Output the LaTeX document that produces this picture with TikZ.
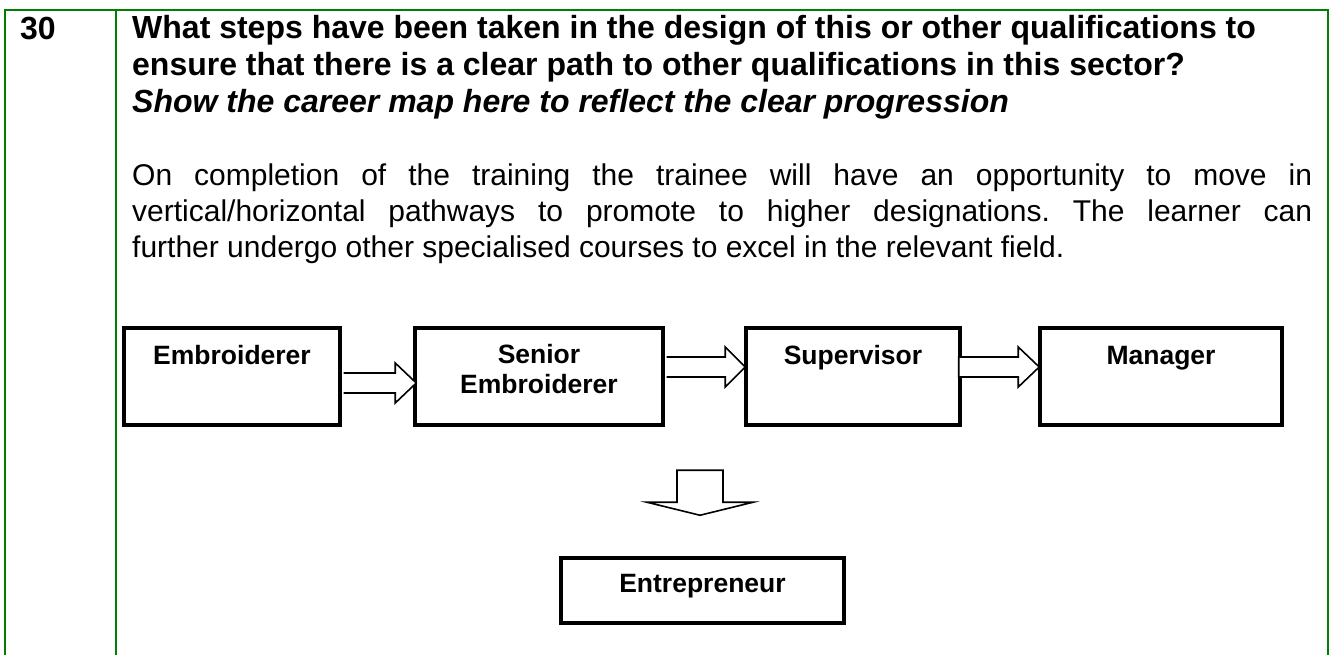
\documentclass[tikz,border=0pt]{standalone}
\usepackage{fontspec}
\setmainfont{Liberation Sans}
\usetikzlibrary{calc}
\definecolor{tablegreen}{RGB}{0,128,0}
\frenchspacing
\begin{document}
\begin{tikzpicture}[x=1pt,y=-1pt,
  rule/.style={draw=tablegreen, line width=2.5pt},
  careerbox/.style={draw=black, line width=3.5pt, rectangle, inner sep=0pt},
  boxlabel/.style={anchor=base, inner sep=0pt, align=center,
    font=\fontsize{26.5}{30}\selectfont\bfseries},
  blockarrow/.style={draw=black, fill=white, line width=1.6pt, line join=miter},
  qtext/.style={anchor=base west, inner sep=0pt, font=\fontsize{32}{37}\selectfont\bfseries},
  bodytext/.style={anchor=base west, inner sep=0pt, font=\fontsize{30}{37}\selectfont},
]
\useasboundingbox (0,0) rectangle (1336,655);
\fill[white] (0,0) rectangle (1336,655);

% table frame
\draw[rule] (5,655) -- (5,10) -- (1328,10) -- (1328,655);
\draw[rule] (116,10) -- (116,655);

% row number and question
\node[qtext] (num) at (20,40) {30};
\node[qtext] (q1) at (132,39) {What steps have been taken in the design of this or other qualifications to};
\node[qtext] (q2) at (132,76) {ensure that there is a clear path to other qualifications in this sector?};
\node[qtext, font=\fontsize{32}{37}\selectfont\bfseries\itshape] (q3) at (132,113) {Show the career map here to reflect the clear progression};

% answer paragraph
\node[bodytext] (p1) at (132,186) {\makebox[1180pt][s]{On completion of the training the trainee will have an opportunity to move in}};
\node[bodytext] (p2) at (132,222) {\makebox[1180pt][s]{vertical/horizontal pathways to promote to higher designations. The learner can}};
\node[bodytext] (p3) at (132,258) {further undergo other specialised courses to excel in the relevant field.};

% career boxes
\node[careerbox, minimum width=216pt, minimum height=97pt] (emb) at (232,376.5) {};
\node[careerbox, minimum width=248pt, minimum height=97pt] (sen) at (539,376.5) {};
\node[careerbox, minimum width=214pt, minimum height=97pt] (sup) at (853,376.5) {};
\node[careerbox, minimum width=242pt, minimum height=97pt] (man) at (1161,376.5) {};
\node[careerbox, minimum width=283pt, minimum height=65pt] (ent) at (702.5,590.5) {};

\node[boxlabel] (embt) at ($(emb.north)+(0,38)$) {Embroiderer};
\node[boxlabel] (sent) at ($(sen.north)+(0,67)$) {Senior\\Embroiderer};
\node[boxlabel] (supt) at ($(sup.north)+(0,38)$) {Supervisor};
\node[boxlabel] (mant) at ($(man.north)+(0,38)$) {Manager};
\node[boxlabel] (entt) at ($(ent.north)+(0,36)$) {Entrepreneur};

% block arrows between the boxes
\coordinate (a1s) at ($(emb.east)+(1.8,6.5)$);
\coordinate (a1e) at ($(sen.west)+(3,6.5)$);
\draw[blockarrow] ($(a1s)+(0,-10)$) -- ($(a1e)+(-21,-10)$) -- ($(a1e)+(-21,-20)$)
  -- (a1e) -- ($(a1e)+(-21,20)$) -- ($(a1e)+(-21,10)$) -- ($(a1s)+(0,10)$);

\coordinate (a2s) at ($(sen.east)+(1.8,-9.5)$);
\coordinate (a2e) at ($(sup.west)+(1,-9.5)$);
\draw[blockarrow] ($(a2s)+(0,-10)$) -- ($(a2e)+(-20,-10)$) -- ($(a2e)+(-20,-20)$)
  -- (a2e) -- ($(a2e)+(-20,20)$) -- ($(a2e)+(-20,10)$) -- ($(a2s)+(0,10)$);

\coordinate (a3s) at ($(sup.east)+(-3,-9.5)$);
\coordinate (a3e) at ($(man.west)+(1,-9.5)$);
\draw[blockarrow] ($(a3s)+(0,-10)$) -- ($(a3e)+(-21,-10)$) -- ($(a3e)+(-21,-20)$)
  -- (a3e) -- ($(a3e)+(-21,20)$) -- ($(a3e)+(-21,10)$) -- ($(a3s)+(0,10)$) -- cycle;

% downward block arrow towards Entrepreneur
\coordinate (dtip) at ($(ent.north)+(-2.5,-41)$);
\draw[blockarrow] ($(dtip)+(-23,-45)$) -- ($(dtip)+(23,-45)$) -- ($(dtip)+(23,-13)$)
  -- ($(dtip)+(53,-13)$) -- (dtip) -- ($(dtip)+(-53,-13)$) -- ($(dtip)+(-23,-13)$) -- cycle;
\end{tikzpicture}
\end{document}
